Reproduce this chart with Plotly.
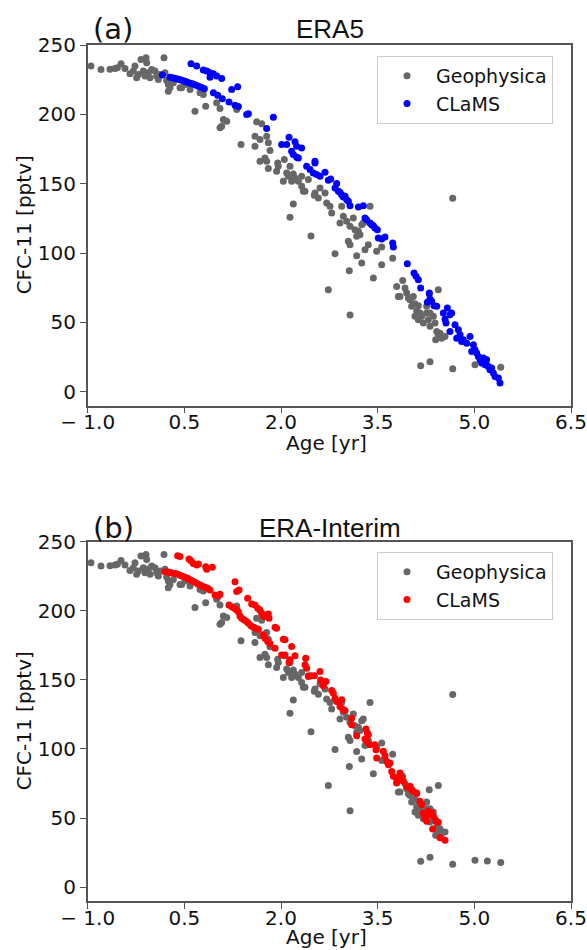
import plotly.graph_objects as go

# ---------------- data ----------------
geo_age = [-0.949, -0.794, -0.654, -0.576, -0.540, -0.483, -0.421, -0.344, -0.292, -0.266,
           -0.240, -0.214, -0.173, -0.137, -0.095, -0.085, -0.111, -0.059, -0.033, -0.007,
           0.044, 0.070, 0.096, 0.122, 0.184, 0.200, 0.225, 0.251, 0.251, 0.277,
           0.329, 0.432, 0.458, 0.510, 0.588, 0.665, 0.743, 0.794, 0.831, 1.001,
           1.053, 1.105, 1.157, 1.079, 1.053, 1.312, 1.379, 1.596, 1.596, 1.622,
           1.700, 1.674, 1.777, 1.803, 1.829, 1.674, 1.751, 1.803, 1.777, 1.948,
           1.932, 1.958, 2.036, 2.051, 2.088, 2.114, 2.139, 2.165, 2.191, 2.217,
           2.269, 2.320, 2.346, 2.372, 2.320, 2.424, 2.191, 2.139, 2.465, 2.517,
           2.527, 2.579, 2.605, 2.683, 2.708, 2.760, 2.786, 2.941, 2.967, 2.915,
           3.019, 3.071, 3.122, 3.148, 3.200, 3.226, 3.174, 3.252, 3.277, 3.045,
           3.071, 2.838, 3.174, 3.252, 3.303, 3.355, 3.381, 3.484, 3.562, 3.562,
           3.060, 3.433, 3.733, 2.734, 3.071, 4.664, 3.795, 3.821, 3.888, 3.924,
           3.950, 4.002, 4.053, 4.027, 4.079, 4.105, 4.131, 4.157, 4.183, 4.209,
           4.260, 4.286, 4.312, 4.364, 4.390, 4.416, 4.441, 4.467, 4.493, 4.545,
           4.441, 4.400, 4.167, 4.312, 4.664, 5.010, 5.202, 5.409, 3.846, 3.976,
           4.079, 4.131, 4.260, 4.312, 4.300]
geo_cfc = [234.8, 232.4, 232.6, 233.1, 233.6, 236.4, 233.1, 229.2, 231.2, 234.8,
           226.4, 228.8, 239.6, 231.2, 240.8, 237.2, 227.6, 230.0, 226.4, 232.4,
           231.2, 227.6, 225.2, 228.8, 240.8, 230.0, 224.4, 221.5, 216.7, 219.1,
           222.7, 219.1, 219.1, 221.5, 218.0, 202.3, 215.5, 214.3, 205.9, 208.3,
           204.2, 196.3, 195.1, 191.5, 190.3, 203.5, 178.3, 184.3, 177.0, 194.6,
           193.2, 181.9, 184.3, 179.5, 173.9, 166.2, 168.6, 160.9, 166.2, 165.0,
           159.0, 162.6, 151.8, 167.4, 157.8, 155.4, 162.6, 151.8, 157.1, 154.2,
           151.8, 155.4, 144.6, 144.6, 148.2, 153.0, 135.4, 125.8, 112.4, 141.7,
           143.4, 139.7, 147.0, 143.4, 136.1, 133.7, 128.9, 133.7, 126.5, 121.7,
           122.9, 119.3, 125.3, 116.9, 115.7, 113.3, 112.1, 120.5, 121.7, 108.5,
           106.1, 99.6, 98.1, 92.8, 102.5, 106.1, 133.7, 101.3, 104.4, 91.6,
           87.3, 82.0, 96.2, 73.6, 55.3, 139.5, 76.0, 68.8, 80.3, 74.8,
           71.2, 66.4, 68.8, 61.6, 54.4, 58.0, 52.0, 56.8, 54.4, 49.6,
           56.8, 52.0, 47.2, 54.4, 49.6, 43.5, 41.1, 42.3, 38.7, 39.9,
           73.6, 37.5, 18.8, 21.7, 16.6, 19.5, 19.0, 17.8, 68.8, 67.6,
           63.5, 62.0, 61.6, 56.8, 70.5]

era5_age = [0.158, 0.277, 0.313, 0.344, 0.381, 0.417, 0.448, 0.484, 0.520, 0.551,
            0.588, 0.624, 0.655, 0.691, 0.727, 0.769, 0.810, 0.603, 0.691, 0.794,
            0.846, 0.898, 0.950, 1.001, 1.079, 0.898, 0.950, 1.017, 1.089, 1.193,
            1.286, 1.338, 1.234, 1.327, 1.467, 1.493, 1.777, 1.881, 2.010, 2.088,
            2.124, 2.217, 2.243, 2.320, 2.165, 2.191, 2.243, 2.269, 2.398, 2.450,
            2.501, 2.527, 2.527, 2.553, 2.605, 2.683, 2.734, 2.771, 2.838, 2.864,
            2.890, 2.915, 2.941, 2.967, 2.993, 3.019, 3.045, 3.071, 3.200, 3.277,
            3.303, 3.329, 3.381, 3.407, 3.433, 3.458, 3.495, 3.510, 3.562, 3.614,
            3.733, 3.743, 3.960, 4.064, 4.095, 4.131, 4.167, 4.302, 4.312, 4.271,
            4.338, 4.374, 4.416, 4.519, 4.581, 4.545, 4.622, 4.648, 4.560, 4.622,
            4.700, 4.752, 4.778, 4.726, 4.803, 4.829, 4.881, 4.933, 4.985, 4.959,
            5.010, 5.036, 5.062, 5.088, 5.140, 5.114, 5.166, 5.191, 5.217, 5.243,
            5.269, 5.295, 5.321, 5.373, 5.398]
era5_cfc = [228.3, 226.8, 226.4, 226.1, 225.6, 225.1, 224.7, 224.2, 223.7, 223.2,
            222.5, 222.0, 221.5, 220.8, 220.1, 219.4, 218.4, 236.4, 234.8, 231.9,
            231.2, 230.0, 229.2, 227.6, 225.9, 226.8, 215.5, 213.8, 211.2, 209.0,
            206.6, 205.7, 217.9, 219.9, 199.9, 200.4, 189.8, 198.0, 178.3, 178.3,
            183.5, 180.2, 177.0, 175.8, 173.4, 171.0, 169.1, 168.6, 162.6, 160.2,
            157.8, 166.2, 165.0, 156.6, 155.4, 158.3, 152.5, 153.5, 147.0, 150.1,
            144.6, 143.8, 142.1, 140.5, 140.9, 138.5, 137.3, 134.2, 133.2, 134.2,
            125.3, 124.1, 121.7, 120.5, 119.8, 118.1, 116.9, 110.9, 110.2, 111.6,
            107.3, 104.4, 92.4, 85.6, 83.3, 80.8, 74.8, 71.2, 66.9, 64.5,
            65.2, 62.1, 61.6, 56.8, 60.4, 52.4, 55.6, 56.8, 49.6, 43.5,
            48.4, 44.7, 41.1, 38.7, 36.3, 37.5, 35.1, 39.9, 33.9, 29.1,
            30.3, 27.9, 25.5, 23.1, 24.3, 20.7, 19.5, 23.1, 18.3, 15.9,
            17.1, 13.5, 11.1, 9.9, 6.3]

erai_age = [0.396, 0.432, 0.572, 0.603, 0.639, 0.691, 0.717, 0.831, 0.846, 0.934,
            0.200, 0.241, 0.277, 0.313, 0.355, 0.396, 0.432, 0.469, 0.510, 0.551,
            0.588, 0.624, 0.665, 0.707, 0.743, 0.779, 0.820, 0.862, 0.898, 0.976,
            1.027, 1.053, 1.286, 1.312, 1.348, 1.482, 1.545, 1.596, 1.638, 1.674,
            1.700, 1.726, 1.751, 1.777, 1.803, 1.814, 1.907, 1.932, 2.036, 2.062,
            2.165, 2.217, 2.139, 2.124, 2.383, 2.372, 2.398, 2.424, 2.465, 2.517,
            1.193, 1.234, 1.276, 1.312, 1.338, 1.363, 1.389, 1.431, 1.467, 1.493,
            1.534, 1.570, 1.607, 1.648, 1.726, 1.751, 1.793, 1.829, 1.907, 2.010,
            2.062, 2.605, 2.615, 2.657, 2.698, 2.786, 2.812, 2.838, 2.864, 2.941,
            2.915, 2.957, 2.993, 3.096, 3.096, 3.174, 3.319, 3.340, 3.355, 3.303,
            3.329, 3.381, 3.458, 3.474, 3.484, 3.588, 3.614, 3.640, 3.666, 3.691,
            3.717, 3.743, 3.795, 3.846, 3.872, 3.898, 3.950, 4.002, 4.053, 4.105,
            4.157, 4.183, 4.209, 4.234, 4.260, 4.286, 4.312, 4.338, 4.364, 4.405,
            4.441, 4.353, 4.467, 4.545, 4.105, 4.028, 3.795]
erai_cfc = [239.9, 239.2, 237.5, 236.3, 234.3, 233.1, 233.9, 231.9, 230.0, 231.5,
            228.3, 228.1, 227.8, 227.4, 226.9, 226.4, 225.7, 225.0, 224.2, 223.5,
            222.5, 221.6, 220.6, 219.4, 218.7, 217.7, 217.0, 216.3, 215.1, 211.5,
            210.7, 211.9, 221.1, 213.9, 215.1, 209.1, 205.0, 204.2, 201.8, 200.6,
            198.2, 196.3, 195.8, 197.0, 197.7, 194.6, 188.1, 187.4, 179.4, 179.0,
            174.1, 167.4, 164.5, 162.6, 165.7, 160.9, 158.5, 152.5, 153.0, 153.0,
            204.2, 203.0, 201.8, 200.6, 199.4, 196.3, 194.6, 193.4, 192.2, 191.0,
            189.1, 188.1, 187.4, 186.7, 182.6, 180.2, 177.8, 176.1, 172.9, 168.1,
            168.1, 156.0, 150.0, 145.7, 148.8, 142.3, 140.4, 136.8, 134.4, 135.6,
            130.8, 128.8, 127.9, 122.3, 117.5, 109.6, 114.4, 111.5, 110.3, 107.2,
            105.5, 103.1, 103.1, 99.5, 93.4, 98.3, 95.1, 91.0, 88.6, 89.8,
            83.8, 80.2, 79.0, 82.6, 79.0, 76.6, 72.5, 73.0, 69.4, 68.1,
            62.1, 59.7, 53.7, 50.1, 47.7, 54.9, 52.5, 53.7, 51.3, 47.7,
            47.0, 42.1, 35.7, 34.0, 67.7, 70.6, 75.4]

x_ticks = [-1.0, 0.5, 2.0, 3.5, 5.0, 6.5]
x_tick_labels = ["\u2212 1.0", "0.5", "2.0", "3.5", "5.0", "6.5"]
y_ticks = [0, 50, 100, 150, 200, 250]

GREY = "#676767"
W, H = 587, 950
FONT = "DejaVu Sans"


def px_x(p):
    return p / W


def px_y(p):
    return 1 - p / H


fig = go.Figure()
panels = [
    ("", "", era5_age, era5_cfc, "#0000ff", "legend"),
    ("2", "2", erai_age, erai_cfc, "#ff0000", "legend2"),
]
for xs, ys, cage, ccfc, col, leg in panels:
    fig.add_trace(go.Scatter(x=geo_age, y=geo_cfc, mode="markers", name="Geophysica",
                             marker=dict(color=GREY, size=7),
                             xaxis="x" + xs, yaxis="y" + ys, legend=leg))
    fig.add_trace(go.Scatter(x=cage, y=ccfc, mode="markers", name="CLaMS",
                             marker=dict(color=col, size=7),
                             xaxis="x" + xs, yaxis="y" + ys, legend=leg))

axis_common = dict(showline=True, linecolor="#555555", linewidth=1.5, mirror=True,
                   ticks="outside", ticklen=6, tickwidth=1.2, tickcolor="#555555",
                   showgrid=False, zeroline=False, automargin=False,
                   tickfont=dict(family=FONT, size=20, color="#111111"))

legend_common = dict(xanchor="left", yanchor="top",
                     bgcolor="white", bordercolor="#cccccc", borderwidth=1,
                     font=dict(family=FONT, size=19, color="#111111"),
                     itemsizing="trace", itemwidth=48, tracegroupgap=0)

x_dom = [px_x(87.7), px_x(571)]
fig.update_layout(
    width=W, height=H,
    margin=dict(l=0, r=0, t=0, b=0, autoexpand=False),
    paper_bgcolor="white", plot_bgcolor="white",
    xaxis=dict(domain=x_dom, range=[-1, 6.5], tickvals=x_ticks, ticktext=x_tick_labels,
               anchor="y", ticklabelstandoff=-8, **axis_common),
    yaxis=dict(domain=[px_y(405.7), px_y(45)], range=[-10, 250], tickvals=y_ticks,
               anchor="x", **axis_common),
    xaxis2=dict(domain=x_dom, range=[-1, 6.5], tickvals=x_ticks, ticktext=x_tick_labels,
                anchor="y2", ticklabelstandoff=-8, **axis_common),
    yaxis2=dict(domain=[px_y(901), px_y(541.7)], range=[-10, 250], tickvals=y_ticks,
                anchor="x2", **axis_common),
    legend=dict(x=px_x(377), y=px_y(56), **legend_common),
    legend2=dict(x=px_x(377), y=px_y(552), **legend_common),
    showlegend=True,
)

ann = []
for label, title, ycen, xtitle_y in [("(a)", "ERA5", 29, 443), ("(b)", "ERA-Interim", 528, 937)]:
    ann.append(dict(text=label, x=px_x(91), y=px_y(ycen), xref="paper", yref="paper",
                    xanchor="left", yanchor="middle", showarrow=False,
                    font=dict(family=FONT, size=29, color="#111111")))
    ann.append(dict(text=title, x=px_x(329.5), y=px_y(ycen), xref="paper", yref="paper",
                    xanchor="center", yanchor="middle", showarrow=False,
                    font=dict(family="Liberation Sans", size=26, color="#111111")))
    ann.append(dict(text="Age [yr]", x=px_x(326), y=px_y(xtitle_y), xref="paper", yref="paper",
                    xanchor="center", yanchor="middle", showarrow=False,
                    font=dict(family=FONT, size=20, color="#111111")))
for ycen in [(45 + 405.7) / 2, (541.7 + 901) / 2]:
    ann.append(dict(text="CFC-11 [pptv]", x=px_x(24), y=px_y(ycen), xref="paper", yref="paper",
                    xanchor="center", yanchor="middle", showarrow=False, textangle=-90,
                    font=dict(family=FONT, size=20, color="#111111")))
fig.update_layout(annotations=ann)

fig.write_html("out.html")
